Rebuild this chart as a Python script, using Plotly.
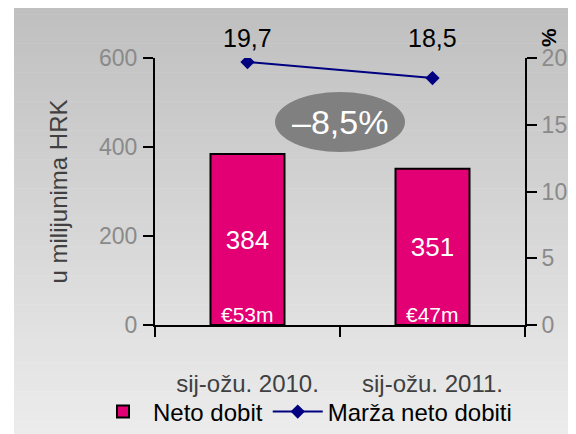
import plotly.graph_objects as go

# data
categories = ["sij-ožu. 2010.", "sij-ožu. 2011."]
neto_dobit = [384, 351]
eur_labels = ["€53m", "€47m"]
marza = [19.7, 18.5]
marza_labels = ["19,7", "18,5"]
change_label = "–8,5%"

FONT = "Liberation Sans, Arial, sans-serif"
MAGENTA = "#E20074"
NAVY = "#000080"
GREY = "#8a8a8a"

# the page puts the figure 8px in from the top-left corner
OFF = 8
# plot area in figure pixels
L, R, T, B = 155 - OFF, 525 - OFF, 58 - OFF, 325 - OFF


def px_x(p):
    # screen pixel -> paper x
    return (p - OFF - L) / (R - L)


def px_y(p):
    # screen pixel -> paper y
    return (B - (p - OFF)) / (B - T)


fig = go.Figure()

fig.add_trace(go.Bar(
    x=categories, y=neto_dobit, name="Neto dobit",
    marker=dict(color=MAGENTA, line=dict(color="black", width=2)),
    width=0.4,
    texttemplate="%{y}", textposition="inside", insidetextanchor="middle",
    textangle=0, textfont=dict(color="white", size=26, family=FONT),
))

fig.add_trace(go.Scatter(
    x=categories, y=marza, name="Marža neto dobiti", yaxis="y2",
    mode="lines+markers",
    line=dict(color=NAVY, width=2),
    marker=dict(symbol="diamond", size=11, color=NAVY),
))

# gradient background made of strips
shapes = []
n = 60
top, bottom = 7, 442
for i in range(n):
    y0 = top + (bottom - top) * i / n
    y1 = top + (bottom - top) * (i + 1) / n + 0.5
    t = i / (n - 1)
    c = int(192 + (237 - 192) * t)
    shapes.append(dict(type="rect", xref="paper", yref="paper", layer="below",
                       x0=px_x(14), x1=px_x(590), y0=px_y(y1), y1=px_y(y0),
                       fillcolor="rgb(%d,%d,%d)" % (c, c, c), line=dict(width=0)))

# ellipse behind change label
shapes.append(dict(type="circle", xref="paper", yref="paper",
                   x0=px_x(275), x1=px_x(405), y0=px_y(152), y1=px_y(92),
                   fillcolor="#808080", line=dict(width=0)))

annotations = []
for cat, lab in zip(categories, marza_labels):
    annotations.append(dict(x=cat, y=px_y(38), xref="x", yref="paper", text=lab,
                            yanchor="middle", showarrow=False,
                            font=dict(size=25, color="black", family=FONT)))
for cat, lab in zip(categories, eur_labels):
    annotations.append(dict(x=cat, y=0, xref="x", yref="y", text=lab, yanchor="bottom",
                            yshift=-3, showarrow=False,
                            font=dict(size=21, color="white", family=FONT)))
annotations.append(dict(x=px_x(340), y=px_y(122), xref="paper", yref="paper",
                        text=change_label, showarrow=False,
                        xanchor="center", yanchor="middle",
                        font=dict(size=34, color="white", family=FONT)))
annotations.append(dict(x=px_x(548), y=px_y(38), xref="paper", yref="paper",
                        text="<b>%</b>", textangle=-90, showarrow=False,
                        xanchor="center", yanchor="middle",
                        font=dict(size=21, color="black", family=FONT)))

tick_common = dict(ticklen=10, tickwidth=2, tickcolor="black",
                   showgrid=False, zeroline=False)

fig.update_layout(
    width=576, height=434,
    margin=dict(l=L, r=576 - R, t=T, b=434 - B, autoexpand=False),
    paper_bgcolor="white", plot_bgcolor="rgba(0,0,0,0)",
    font=dict(family=FONT, size=22, color="black"),
    shapes=shapes, annotations=annotations,
    showlegend=True,
    legend=dict(orientation="h", x=px_x(93), xanchor="left",
                y=px_y(412), yanchor="middle",
                bgcolor="rgba(0,0,0,0)",
                font=dict(size=24, color="black", family=FONT),
                traceorder="normal", itemwidth=50),
    xaxis=dict(type="category", range=[-0.5, 1.5], tickson="boundaries",
               ticks="outside", showline=True, linewidth=2, linecolor="black",
               tickfont=dict(size=24, color="#404040", family=FONT),
               ticklabelstandoff=36, **tick_common),
    xaxis2=dict(overlaying="x", anchor="y", range=[-0.5, 1.5],
                tickvals=[-0.5, 0.5, 1.5], ticks="inside", showticklabels=False,
                showline=False, **tick_common),
    yaxis=dict(range=[0, 600], dtick=200, ticks="outside", showline=True,
               linewidth=2, linecolor="black",
               tickfont=dict(size=23, color=GREY, family=FONT),
               ticklabelstandoff=1,
               title=dict(text="u milijunima HRK", standoff=25,
                          font=dict(size=24, color="#404040", family=FONT)),
               **tick_common),
    yaxis3=dict(overlaying="y", side="left", anchor="x", range=[0, 600],
                dtick=200, ticks="inside", showticklabels=False, showline=False,
                **tick_common),
    yaxis2=dict(overlaying="y", side="right", anchor="x", range=[0, 20], dtick=5,
                ticks="outside", showline=True, linewidth=2, linecolor="black",
                tickfont=dict(size=23, color=GREY, family=FONT),
                **tick_common),
    yaxis4=dict(overlaying="y", side="right", anchor="x", range=[0, 20], dtick=5,
                ticks="inside", showticklabels=False, showline=False,
                **tick_common),
)

fig.write_html("out.html")
